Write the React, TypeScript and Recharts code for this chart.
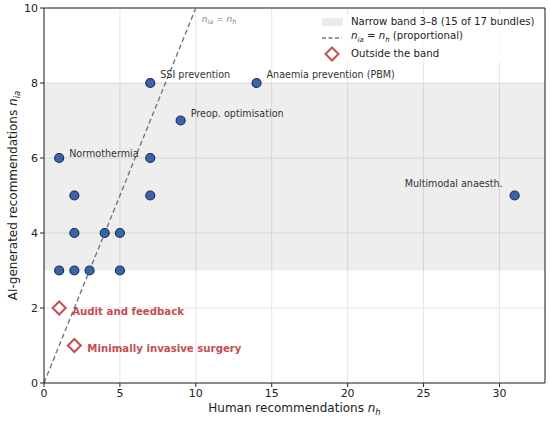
import {
  CartesianGrid,
  ReferenceArea,
  ReferenceDot,
  ReferenceLine,
  Scatter,
  ScatterChart,
  XAxis,
  YAxis,
} from "recharts";

// human recommendations (n_h) vs AI-generated recommendations (n_ia), per bundle
const bandHuman = [1, 2, 2, 1, 2, 3, 4, 5, 5, 7, 14, 9, 7, 7, 31];
const bandAi = [6, 5, 4, 3, 3, 3, 4, 4, 3, 8, 8, 7, 6, 5, 5];
const bandNames = [
  "Normothermia", "", "", "", "", "", "", "", "",
  "SSI prevention", "Anaemia prevention (PBM)", "Preop. optimisation", "", "",
  "Multimodal anaesth.",
];

const outsideHuman = [1, 2];
const outsideAi = [2, 1];
const outsideNames = ["Audit and feedback", "Minimally invasive surgery"];

const bandLow = 3;
const bandHigh = 8;
const xTicks = [0, 5, 10, 15, 20, 25, 30];
const yTicks = [0, 2, 4, 6, 8, 10];

const bandPoints = bandHuman.map((x, i) => ({ x, y: bandAi[i], name: bandNames[i] }));
const outsidePoints = outsideHuman.map((x, i) => ({ x, y: outsideAi[i], name: outsideNames[i] }));

const FONT = "'DejaVu Sans', sans-serif";
const BLUE = "#3b63a8";
const BLUE_EDGE = "#1c2f5c";
const RED = "#c44e52";

// label placement relative to the marker
const labelOffset: Record<string, { dx: number; dy: number; anchor: "start" | "end" }> = {
  "Normothermia": { dx: 10, dy: -4, anchor: "start" },
  "SSI prevention": { dx: 10, dy: -8, anchor: "start" },
  "Anaemia prevention (PBM)": { dx: 10, dy: -8, anchor: "start" },
  "Preop. optimisation": { dx: 10, dy: -7, anchor: "start" },
  "Multimodal anaesth.": { dx: -12, dy: -12, anchor: "end" },
};

function BandDot(props: any) {
  const { cx, cy, payload } = props;
  const off = labelOffset[payload.name];
  return (
    <g>
      <circle cx={cx} cy={cy} r={4.5} fill={BLUE} stroke={BLUE_EDGE} strokeWidth={1.2} />
      {off && (
        <text x={cx + off.dx} y={cy + off.dy} dy="0.35em" textAnchor={off.anchor}
              fontSize={9.6} fill="#333" fontFamily={FONT}>
          {payload.name}
        </text>
      )}
    </g>
  );
}

function OutsideDot(props: any) {
  const { cx, cy, payload } = props;
  const d = 6.5;
  return (
    <g>
      <path d={`M${cx},${cy - d}L${cx + d},${cy}L${cx},${cy + d}L${cx - d},${cy}Z`}
            fill="#fff" stroke={RED} strokeWidth={2} />
      <text x={cx + 13} y={cy + 3} dy="0.35em" fontSize={10.2} fontWeight="bold"
            fill={RED} fontFamily={FONT}>
        {payload.name}
      </text>
    </g>
  );
}

function LegendBox() {
  const row = { display: "flex", alignItems: "center", height: 16 } as const;
  const key = { width: 22, marginRight: 8, display: "flex", justifyContent: "center" } as const;
  return (
    <div style={{ position: "absolute", top: 14, left: 321, fontFamily: FONT, fontSize: 10.2,
                  color: "#222", lineHeight: "16px", background: "rgba(255,255,255,0.8)" }}>
      <div style={row}>
        <span style={key}><span style={{ width: 21, height: 8, background: "#ebebeb" }} /></span>
        Narrow band 3–8 (15 of 17 bundles)
      </div>
      <div style={row}>
        <span style={key}>
          <svg width={22} height={8}><line x1={1} y1={4} x2={21} y2={4} stroke="#777" strokeWidth={1.4} strokeDasharray="4 2.5" /></svg>
        </span>
        <span><i>n</i><sub style={{ fontSize: 7 }}><i>ia</i></sub> = <i>n</i><sub style={{ fontSize: 7 }}><i>h</i></sub> (proportional)</span>
      </div>
      <div style={row}>
        <span style={key}>
          <svg width={16} height={16}><path d="M8,1.5L14.5,8L8,14.5L1.5,8Z" fill="#fff" stroke={RED} strokeWidth={2} /></svg>
        </span>
        Outside the band
      </div>
    </div>
  );
}

function YLabel({ viewBox }: any) {
  const cy = viewBox.y + viewBox.height / 2;
  return (
    <text x={13} y={cy} transform={`rotate(-90, 13, ${cy})`} textAnchor="middle"
          fontSize={12} fill="#222" fontFamily={FONT} dy="0.35em">
      AI-generated recommendations <tspan fontStyle="italic">n</tspan>
      <tspan fontStyle="italic" fontSize={8.5} dy={3}>ia</tspan>
    </text>
  );
}

function XLabel({ viewBox }: any) {
  const cx = viewBox.x + viewBox.width / 2;
  return (
    <text x={cx} y={412} textAnchor="middle" fontSize={12} fill="#222" fontFamily={FONT}>
      Human recommendations <tspan fontStyle="italic">n</tspan>
      <tspan fontStyle="italic" fontSize={8.5} dy={3}>h</tspan>
    </text>
  );
}

function LineLabel({ viewBox }: any) {
  const x = viewBox.x + viewBox.width / 2 + 6;
  const y = viewBox.y + viewBox.height / 2 + 14;
  return (
    <text x={x} y={y} fontSize={9} fill="#888" fontFamily={FONT} fontStyle="italic">
      n<tspan fontSize={6.5} dy={2}>ia</tspan>
      <tspan dy={-2} fontStyle="normal"> = </tspan>n<tspan fontSize={6.5} dy={2}>h</tspan>
    </text>
  );
}

export default function App() {
  const tick = { fontSize: 11, fill: "#222", fontFamily: FONT };
  return (
    <div style={{ position: "relative", width: 550, height: 423 }}>
      <style>{"body{margin:0;background:#fff}"}</style>
      <ScatterChart width={550} height={423} margin={{ top: 8, right: 5, bottom: 0, left: 0 }}>
        <ReferenceArea y1={bandLow} y2={bandHigh} x1={0} x2={33} fill="#000" fillOpacity={0.065} stroke="none" />
        <CartesianGrid stroke="#e6e6e6" strokeWidth={1} />
        <XAxis type="number" dataKey="x" domain={[0, 33]} ticks={xTicks} height={40}
               allowDataOverflow tick={tick} tickSize={4} stroke="#222"
               tickLine={{ stroke: "#222" }} label={<XLabel />} />
        <YAxis type="number" dataKey="y" domain={[0, 10]} ticks={yTicks} width={44}
               allowDataOverflow tick={tick} tickSize={4} stroke="#222"
               tickLine={{ stroke: "#222" }} label={<YLabel />} />
        <ReferenceLine y={10} stroke="#222" />
        <ReferenceLine x={33} stroke="#222" />
        <ReferenceLine segment={[{ x: 0, y: 0 }, { x: 10, y: 10 }]} stroke="#777" strokeWidth={1.4}
                       strokeDasharray="5 3" ifOverflow="visible" />
        <ReferenceDot x={10} y={10} r={0} stroke="none" fill="none" label={<LineLabel />} />
        <Scatter data={bandPoints} shape={<BandDot />} isAnimationActive={false} />
        <Scatter data={outsidePoints} shape={<OutsideDot />} isAnimationActive={false} />
      </ScatterChart>
      <LegendBox />
    </div>
  );
}
